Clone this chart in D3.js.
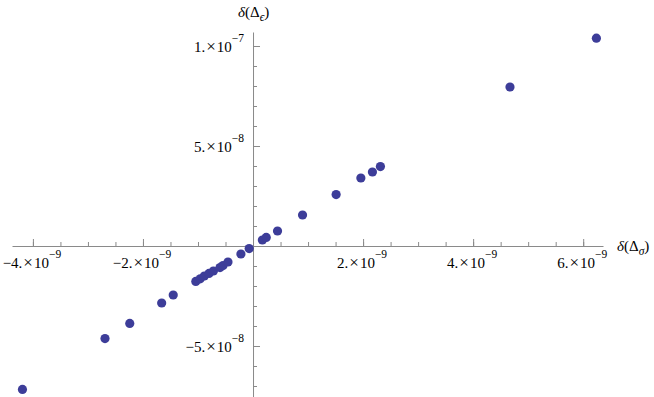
<!DOCTYPE html>
<html lang="en">
<head>
  <meta charset="UTF-8">
  <title>delta sigma vs delta epsilon</title>
  <script src="https://d3js.org/d3.v7.min.js"></script>
  <style>
    body { margin: 0; background: #fff; }
    svg { font-family: "Liberation Serif", "DejaVu Serif", serif; }
    .axis path, .axis line { stroke: #8a8a8a; }
  </style>
</head>
<body>
<svg id="chart" width="654" height="397"></svg>
<script>
// values
const dSigma = [-4.19e-9, -2.69e-9, -2.24e-9, -1.66e-9, -1.45e-9,
  -1.04e-9, -0.96e-9, -0.885e-9, -0.80e-9, -0.72e-9, -0.60e-9, -0.545e-9, -0.455e-9,
  -0.22e-9, -0.07e-9, 0.17e-9, 0.24e-9, 0.445e-9, 0.90e-9, 1.51e-9,
  1.96e-9, 2.17e-9, 2.315e-9, 4.67e-9, 6.24e-9];
const dEps = [-7.17e-8, -4.63e-8, -3.87e-8, -2.85e-8, -2.45e-8,
  -1.77e-8, -1.64e-8, -1.50e-8, -1.37e-8, -1.25e-8, -1.08e-8, -0.98e-8, -0.80e-8,
  -0.40e-8, -0.13e-8, 0.30e-8, 0.43e-8, 0.75e-8, 1.55e-8, 2.57e-8,
  3.40e-8, 3.70e-8, 3.97e-8, 7.95e-8, 10.39e-8];

const xMajor = [-4e-9, -2e-9, 2e-9, 4e-9, 6e-9];
const xLabels = [["\u22124.", "\u22129"], ["\u22122.", "\u22129"],
  ["2.", "\u22129"], ["4.", "\u22129"], ["6.", "\u22129"]];
const yMajor = [-5e-8, 5e-8, 1e-7];
const yLabels = [["\u22125.", "\u22128"], ["5.", "\u22128"], ["1.", "\u22127"]];

const svg = d3.select("#chart");

const x = d3.scaleLinear().domain([-4.38e-9, 6.36e-9]).range([12, 603]);
const y = d3.scaleLinear().domain([-7.55e-8, 1.07e-7]).range([397, 32]);

const xMinor = d3.range(-8, 13).map(i => i * 0.5e-9);
const yMinor = d3.range(-7, 11).map(i => i * 1e-8);

// x axis, ticks pointing up
svg.append("g").attr("class", "axis")
  .attr("transform", `translate(0,${y(0)})`)
  .call(d3.axisTop(x).tickValues(xMinor).tickSize(4).tickSizeOuter(0).tickFormat(""));
svg.append("g").attr("class", "axis")
  .attr("transform", `translate(0,${y(0)})`)
  .call(d3.axisTop(x).tickValues(xMajor).tickSize(7).tickSizeOuter(0).tickFormat(""))
  .select(".domain").remove();

// y axis, ticks pointing right
svg.append("g").attr("class", "axis")
  .attr("transform", `translate(${x(0)},0)`)
  .call(d3.axisRight(y).tickValues(yMinor).tickSize(4).tickSizeOuter(0).tickFormat(""));
svg.append("g").attr("class", "axis")
  .attr("transform", `translate(${x(0)},0)`)
  .call(d3.axisRight(y).tickValues(yMajor).tickSize(7).tickSizeOuter(0).tickFormat(""))
  .select(".domain").remove();

// tick labels like 2.×10^-9
function sciLabel(t, parts) {
  t.append("tspan").text(parts[0]);
  t.append("tspan").attr("dx", 1).attr("font-size", 17).text("\u00d7");
  t.append("tspan").attr("dx", 1).text("10");
  t.append("tspan").attr("dy", -10).attr("font-size", 11.5).text(parts[1]);
}

xMajor.forEach((v, i) => {
  const t = svg.append("text")
    .attr("x", x(v) - 1).attr("y", y(0) + 22)
    .attr("text-anchor", "middle")
    .attr("font-size", 15);
  sciLabel(t, xLabels[i]);
});

yMajor.forEach((v, i) => {
  const t = svg.append("text")
    .attr("x", x(0) - 9).attr("y", y(v) + 6)
    .attr("text-anchor", "end")
    .attr("font-size", 15);
  sciLabel(t, yLabels[i]);
});

// axis labels
const xl = svg.append("text").attr("x", 617).attr("y", 251).attr("font-size", 15);
xl.append("tspan").attr("font-style", "italic").text("\u03b4");
xl.append("tspan").text("(\u0394");
xl.append("tspan").attr("font-style", "italic").attr("font-size", 11.5).attr("dy", 4).text("\u03c3");
xl.append("tspan").attr("dy", -4).text(")");

const yl = svg.append("text").attr("x", 238).attr("y", 17).attr("font-size", 15);
yl.append("tspan").attr("font-style", "italic").text("\u03b4");
yl.append("tspan").text("(\u0394");
yl.append("tspan").attr("font-style", "italic").attr("font-size", 11.5).attr("dy", 4).text("\u03f5");
yl.append("tspan").attr("dy", -4).text(")");

// points
svg.append("g")
  .selectAll("circle")
  .data(dSigma.map((d, i) => [d, dEps[i]]))
  .enter().append("circle")
  .attr("cx", d => x(d[0]))
  .attr("cy", d => y(d[1]))
  .attr("r", 4.6)
  .attr("fill", "rgb(61,61,153)");
</script>
</body>
</html>
